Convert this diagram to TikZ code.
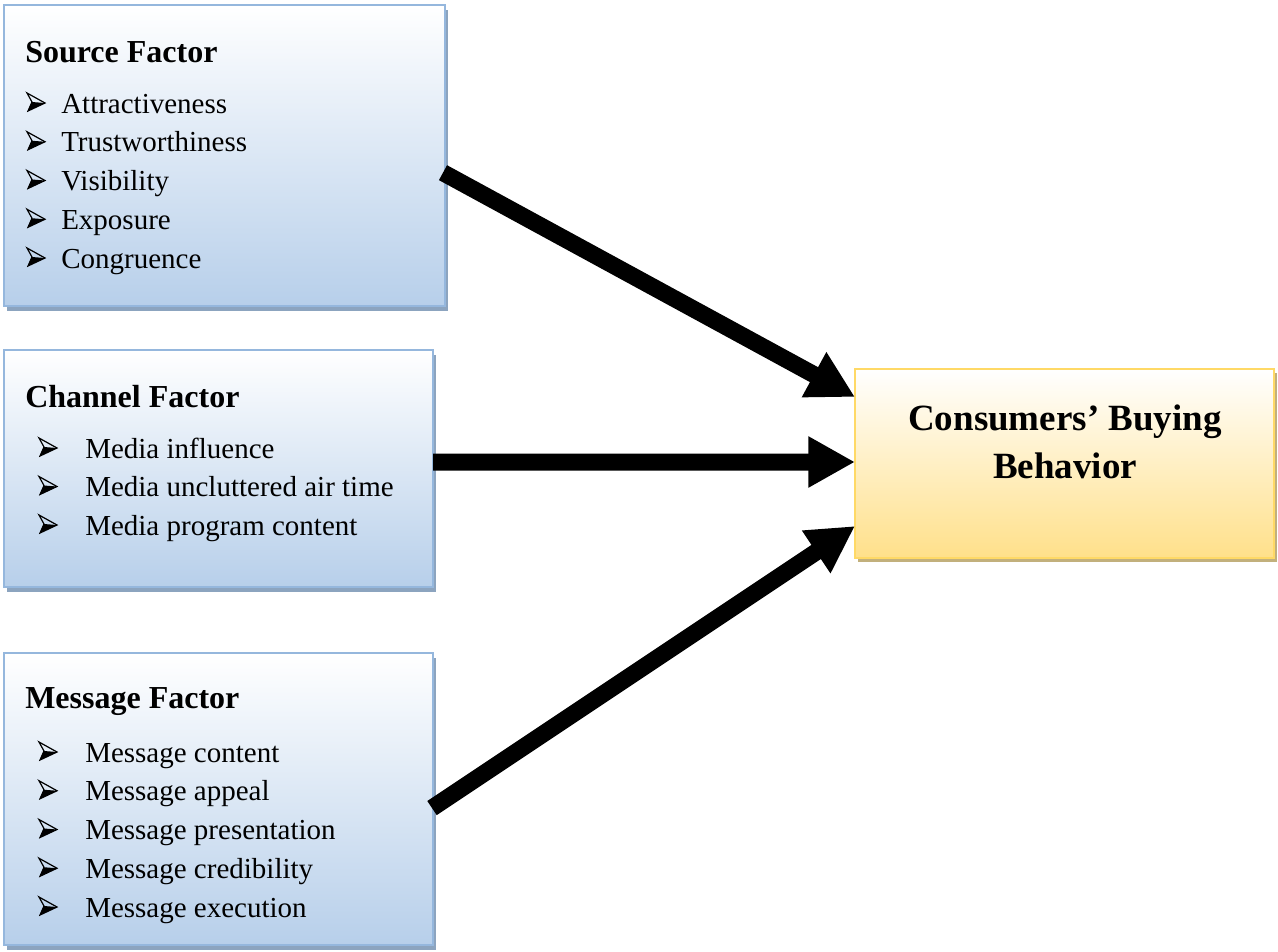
\documentclass[tikz,border=0pt]{standalone}
\usepackage{fontspec}
\setmainfont{Liberation Serif}
\usetikzlibrary{arrows.meta,shadows,calc}
\definecolor{blueB}{HTML}{B7CFEA}
\definecolor{blueBorder}{HTML}{95B7DD}
\definecolor{blueShadow}{HTML}{8CA4BF}
\definecolor{yelB}{HTML}{FFE08A}
\definecolor{yelBorder}{HTML}{FFD966}
\definecolor{yelShadow}{HTML}{C2B07C}
\tikzset{
  factorbox/.style={draw=blueBorder, line width=1.6pt, top color=white, bottom color=blueB,
    inner sep=0pt, outer sep=0pt,
    drop shadow={shadow xshift=2.4pt, shadow yshift=-3.4pt, fill=blueShadow, opacity=1}},
  targetbox/.style={draw=yelBorder, line width=1.6pt, top color=white, bottom color=yelB,
    inner sep=0pt, outer sep=0pt,
    drop shadow={shadow xshift=2.4pt, shadow yshift=-3pt, fill=yelShadow, opacity=1}},
  title/.style={anchor=base west, inner sep=0pt, font=\fontsize{24pt}{28pt}\selectfont\bfseries},
  itemtext/.style={anchor=base west, inner sep=0pt, font=\fontsize{21.75pt}{26pt}\selectfont},
  bigarrow/.style={line width=12.75pt, -{Triangle[length=35pt, width=36pt]}},
  arrowbullet/.pic={
    \fill[black] (5,-11) -- (18,-10) -- (1,-2) -- cycle;
    \draw[black, line width=0.9pt, line join=miter] (0,-20) -- (18,-10) -- (1,-2) -- (5,-11) -- cycle;
  }
}
\begin{document}
\begin{tikzpicture}[x=0.75pt, y=-0.75pt]
\useasboundingbox (0,0) rectangle (1278,951);
% boxes
\node[factorbox, minimum width=330.75pt, minimum height=225.75pt] (src) at (224.5,155.5) {};
\node[factorbox, minimum width=321.75pt, minimum height=177.75pt] (chn) at (218.5,468.5) {};
\node[factorbox, minimum width=321.75pt, minimum height=219pt] (msg) at (218.5,799) {};
\node[targetbox, minimum width=314.25pt, minimum height=141.75pt] (tgt) at (1064.5,463.5) {};
% source
\node[title] (srcT) at (25,62) {Source Factor};
\foreach \t [count=\i] in {Attractiveness,Trustworthiness,Visibility,Exposure,Congruence}{
  \pic at (27,{113+(\i-1)*38.75}) {arrowbullet};
  \node[itemtext] (srcI\i) at (61,{113+(\i-1)*38.75}) {\t};
}
% channel
\node[title] (chnT) at (25,407) {Channel Factor};
\foreach \t [count=\i] in {Media influence,Media uncluttered air time,Media program content}{
  \pic at (39,{458+(\i-1)*38.5}) {arrowbullet};
  \node[itemtext] (chnI\i) at (85,{458+(\i-1)*38.5}) {\t};
}
% message
\node[title] (msgT) at (25,708) {Message Factor};
\foreach \t [count=\i] in {Message content,Message appeal,Message presentation,Message credibility,Message execution}{
  \pic at (39,{762+(\i-1)*38.75}) {arrowbullet};
  \node[itemtext] (msgI\i) at (85,{762+(\i-1)*38.75}) {\t};
}
% target text
\node[anchor=base, inner sep=0pt, align=center, font=\fontsize{27.75pt}{36pt}\selectfont\bfseries] (tgtT) at (1065,478) {Consumers’ Buying\\Behavior};
% connectors
\coordinate (s1) at ($(src.north east)!0.557!(src.south east)+(-2,0)$);
\coordinate (s2) at ($(chn.west |- tgt.west)+(429,-1.5)$);
\coordinate (s3) at ($(msg.north east)!0.531!(msg.south east)+(-1,0)$);
\coordinate (t1) at ($(tgt.north west)!0.148!(tgt.south west)$);
\coordinate (t2) at ($(tgt.north west)!0.492!(tgt.south west)$);
\coordinate (t3) at ($(tgt.north west)!0.831!(tgt.south west)$);
\draw[bigarrow] (s1) -- (t1);
\draw[bigarrow] (s2) -- (t2);
\draw[bigarrow] (s3) -- (t3);
\end{tikzpicture}
\end{document}
